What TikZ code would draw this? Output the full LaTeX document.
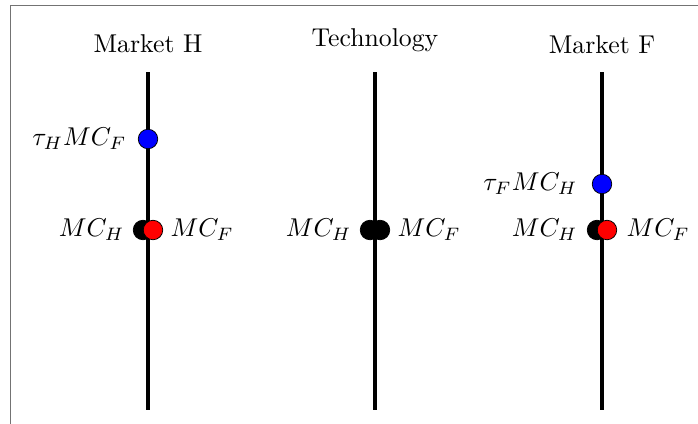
\documentclass[tikz,border=0pt]{standalone}
\begin{document}
\begin{tikzpicture}[x=0.4pt,y=-0.4pt,
  axis/.style={line width=1.6pt},
  dot/.style={circle,draw=black,line width=0.3pt,minimum size=7.8pt,inner sep=0pt},
  lbl/.style={inner sep=0pt,scale=1.03},
  title/.style={inner sep=0pt,anchor=base,scale=1.03}]
\useasboundingbox (0,0) rectangle (698,423);
\draw[black!55,line width=0.7pt] (10.5,430) -- (10.5,5.5) -- (705,5.5);
% axes
\coordinate (h1) at (148,72); \coordinate (h2) at (148,410);
\coordinate (t1) at (375,72); \coordinate (t2) at (375,410);
\coordinate (f1) at (602,72); \coordinate (f2) at (602,410);
\draw[axis] (h1) -- (h2);
\draw[axis] (t1) -- (t2);
\draw[axis] (f1) -- (f2);
% titles
\node[title] (th) at (148,52) {Market H};
\node[title] (tt) at (375,46) {Technology};
\node[title] (tf) at (602,53) {Market F};
% Market H
\node[dot,fill=blue] (hb) at (148,139) {};
\node[dot,fill=black] (hk) at (143,230) {};
\node[dot,fill=red] (hr) at (153,230) {};
\node[lbl,anchor=east] (lhb) at (127,139) {$\tau_H MC_F$};
\node[lbl,anchor=east] (lhk) at (125,230) {$MC_H$};
\node[lbl,anchor=west] (lhr) at (170,230) {$MC_F$};
% Technology
\node[dot,fill=black] (tk1) at (370,230) {};
\node[dot,fill=black] (tk2) at (380,230) {};
\node[lbl,anchor=east] (ltk) at (352,230) {$MC_H$};
\node[lbl,anchor=west] (ltr) at (397,230) {$MC_F$};
% Market F
\node[dot,fill=blue] (fb) at (602,184) {};
\node[dot,fill=black] (fk) at (597,230) {};
\node[dot,fill=red] (fr) at (607,230) {};
\node[lbl,anchor=east] (lfb) at (578,184) {$\tau_F MC_H$};
\node[lbl,anchor=east] (lfk) at (578,230) {$MC_H$};
\node[lbl,anchor=west] (lfr) at (626,230) {$MC_F$};
\end{tikzpicture}
\end{document}
